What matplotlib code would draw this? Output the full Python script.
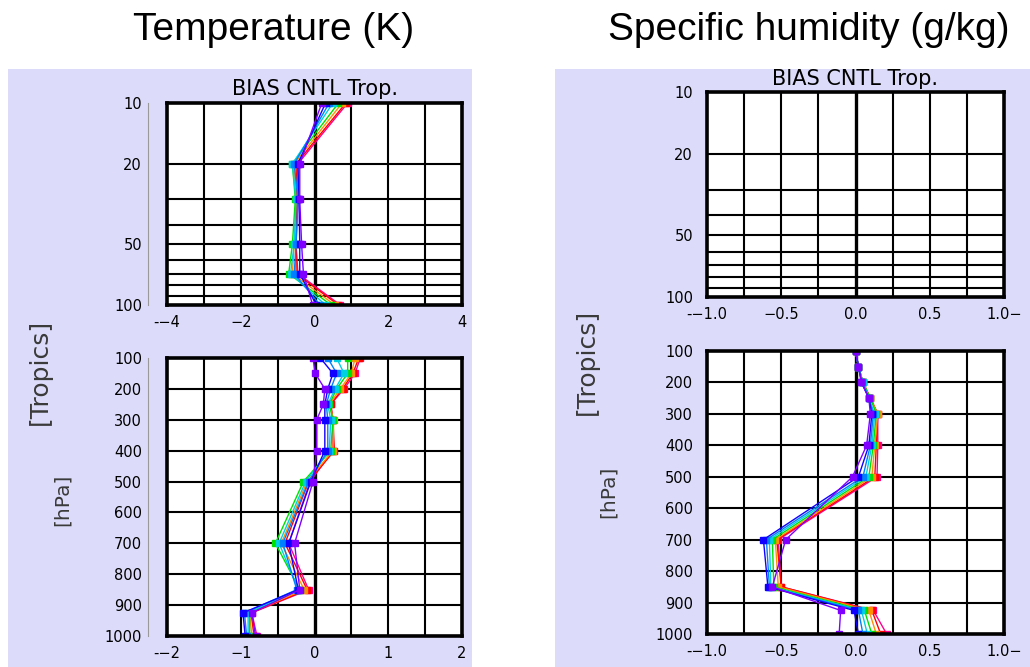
import matplotlib
matplotlib.use("Agg")
import matplotlib.pyplot as plt
from matplotlib.patches import Rectangle
from matplotlib.ticker import FixedLocator, NullFormatter

# pressure levels (hPa)
lev_upper = [10, 20, 30, 50, 70, 100]
lev_lower = [100, 150, 200, 250, 300, 400, 500, 700, 850, 925, 1000]

# one colour per experiment, purple -> magenta
colors = ['#8000ff', '#1000ff', '#0080ff', '#00d0e0', '#00e000', '#ff9000', '#ff0000', '#ff0090']

# temperature bias (K), rows = experiments, cols = lev_upper
temp_upper = [
    [0.20, -0.40, -0.40, -0.35, -0.30, -0.05],
    [0.30, -0.45, -0.42, -0.40, -0.40, 0.05],
    [0.40, -0.55, -0.45, -0.50, -0.55, 0.15],
    [0.50, -0.60, -0.50, -0.55, -0.65, 0.30],
    [0.65, -0.60, -0.52, -0.60, -0.70, 0.45],
    [0.75, -0.55, -0.50, -0.55, -0.60, 0.55],
    [0.85, -0.50, -0.48, -0.50, -0.50, 0.65],
    [0.90, -0.45, -0.45, -0.50, -0.45, 0.70],
]
# temperature bias (K), cols = lev_lower
temp_lower = [
    [-0.02, 0.01, 0.14, 0.12, 0.03, 0.03, -0.02, -0.27, -0.20, -0.85, -0.80],
    [0.08, 0.25, 0.18, 0.14, 0.14, 0.14, -0.05, -0.35, -0.22, -0.97, -0.94],
    [0.18, 0.30, 0.22, 0.16, 0.18, 0.18, -0.08, -0.43, -0.24, -0.95, -0.92],
    [0.30, 0.40, 0.28, 0.18, 0.22, 0.20, -0.12, -0.48, -0.22, -0.90, -0.90],
    [0.45, 0.45, 0.30, 0.20, 0.25, 0.22, -0.15, -0.53, -0.20, -0.88, -0.88],
    [0.55, 0.50, 0.35, 0.20, 0.26, 0.25, -0.10, -0.45, -0.14, -0.88, -0.85],
    [0.60, 0.52, 0.38, 0.22, 0.25, 0.27, -0.08, -0.40, -0.10, -0.86, -0.82],
    [0.62, 0.55, 0.40, 0.22, 0.25, 0.25, -0.06, -0.35, -0.08, -0.85, -0.78],
]
# specific humidity bias (g/kg), cols = lev_lower
q_lower = [
    [0.00, 0.02, 0.04, 0.09, 0.10, 0.075, -0.02, -0.47, -0.56, -0.10, -0.11],
    [0.00, 0.02, 0.04, 0.09, 0.11, 0.09, 0.02, -0.62, -0.59, -0.01, 0.02],
    [0.00, 0.02, 0.045, 0.09, 0.12, 0.10, 0.05, -0.60, -0.58, 0.02, 0.05],
    [0.00, 0.02, 0.05, 0.09, 0.13, 0.11, 0.07, -0.58, -0.57, 0.04, 0.08],
    [0.00, 0.02, 0.05, 0.10, 0.14, 0.12, 0.09, -0.56, -0.55, 0.06, 0.11],
    [0.00, 0.02, 0.05, 0.10, 0.15, 0.13, 0.11, -0.54, -0.52, 0.09, 0.14],
    [0.00, 0.02, 0.05, 0.10, 0.15, 0.14, 0.13, -0.53, -0.50, 0.11, 0.17],
    [0.00, 0.02, 0.05, 0.10, 0.15, 0.15, 0.145, -0.52, -0.50, 0.12, 0.21],
]

W, H = 1030, 667
LAV = '#dcdcfa'
fig = plt.figure(figsize=(W / 100, H / 100), dpi=100)
fig.patch.set_facecolor('white')

def px(x0, y0, x1, y1):
    # pixel box (top-left origin) -> figure fraction rect
    return [x0 / W, 1 - y1 / H, (x1 - x0) / W, (y1 - y0) / H]

# lavender panel backgrounds
for (x0, x1) in [(8, 472), (555, 1030)]:
    r = px(x0, 69, x1, 667)
    fig.add_artist(Rectangle((r[0], r[1]), r[2], r[3], transform=fig.transFigure,
                             facecolor=LAV, edgecolor='none', zorder=-5))

def setup(ax, xlim, xstep, xticks, xlabels, ylim, log, yticks, ygrid, gray_spine):
    ax.set_facecolor('white')
    ax.set_xlim(*xlim)
    if log:
        ax.set_yscale('log')
    ax.set_ylim(ylim[1], ylim[0])
    # grid
    x = xlim[0] + xstep
    while x < xlim[1] - 1e-9:
        ax.axvline(x, color='black', lw=1.5 if abs(x) > 1e-9 else 2.4, zorder=1)
        x += xstep
    for y in ygrid:
        ax.axhline(y, color='black', lw=1.5, zorder=1)
    ax.axvline(xlim[0], color='black', lw=2.6, zorder=3, clip_on=False)
    for s in ['top', 'right', 'bottom']:
        ax.spines[s].set_linewidth(2.6)
        ax.spines[s].set_zorder(3)
    if gray_spine:
        ax.spines['left'].set_position(('outward', 14))
        ax.spines['left'].set_color('#999999')
        ax.spines['left'].set_linewidth(0.8)
        ypad = 4
    else:
        ax.spines['left'].set_visible(False)
        ypad = 10
    ax.yaxis.set_major_locator(FixedLocator(yticks))
    ax.yaxis.set_minor_locator(FixedLocator([]))
    ax.yaxis.set_minor_formatter(NullFormatter())
    ax.set_yticklabels([str(v) for v in yticks])
    ax.set_xticks(xticks)
    ax.set_xticklabels(xlabels)
    ax.tick_params(axis='both', length=0, labelsize=10.5, labelcolor='black')
    ax.tick_params(axis='y', pad=ypad)
    ax.tick_params(axis='x', pad=7)
    for lab in ax.get_xticklabels() + ax.get_yticklabels():
        lab.set_fontfamily('DejaVu Sans')

def profiles(ax, data, levels):
    for c, row in reversed(list(zip(colors, data))):
        ax.plot(row, levels, color=c, lw=1.0, marker='s', ms=5, mec=c, zorder=2)

upper_grid = [20, 30, 40, 50, 60, 70, 80, 90]
lower_grid = [200, 300, 400, 500, 600, 700, 800, 900]
lower_ticks = [100, 200, 300, 400, 500, 600, 700, 800, 900, 1000]

# Temperature, upper
ax1 = fig.add_axes(px(167, 103, 462, 305))
setup(ax1, (-4, 4), 1, [-4, -2, 0, 2, 4], ['-\u22124', '\u22122', '0', '2', '4'],
      (10, 100), True, [10, 20, 50, 100], upper_grid, True)
profiles(ax1, temp_upper, lev_upper)
ax1.set_title('BIAS CNTL Trop.', fontsize=15, pad=6, fontfamily='DejaVu Sans')

# Temperature, lower
ax2 = fig.add_axes(px(167, 358, 462, 636))
setup(ax2, (-2, 2), 0.5, [-2, -1, 0, 1, 2], ['-\u22122', '\u22121', '0', '1', '2'],
      (100, 1000), False, lower_ticks, lower_grid, True)
profiles(ax2, temp_lower, lev_lower)

# Specific humidity, upper (no data)
ax3 = fig.add_axes(px(707, 92, 1004, 297))
setup(ax3, (-1, 1), 0.25, [-1, -0.5, 0, 0.5, 1],
      ['-\u22121.0', '\u22120.5', '0.0', '0.5', '1.0\u2212'],
      (10, 100), True, [10, 20, 50, 100], upper_grid, False)
ax3.set_title('BIAS CNTL Trop.', fontsize=15, pad=5, fontfamily='DejaVu Sans')

# Specific humidity, lower
ax4 = fig.add_axes(px(707, 351, 1004, 634))
setup(ax4, (-1, 1), 0.25, [-1, -0.5, 0, 0.5, 1],
      ['-\u22121.0', '\u22120.5', '0.0', '0.5', '1.0\u2212'],
      (100, 1000), False, lower_ticks, lower_grid, False)
profiles(ax4, q_lower, lev_lower)

# white strip above the panels (clips the right sub-title a bit)
r = px(0, 0, W, 69)
fig.add_artist(Rectangle((r[0], r[1]), r[2], r[3], transform=fig.transFigure,
                         facecolor='white', edgecolor='none', zorder=5))

# side labels
lab_col = '#3a3a3a'
fig.text(40 / W, 1 - 372 / H, '[Tropics]', rotation=90, ha='center', va='center',
         fontsize=18, color=lab_col, fontfamily='DejaVu Sans', zorder=6)
fig.text(62 / W, 1 - 500 / H, '[hPa]', rotation=90, ha='center', va='center',
         fontsize=14.5, color=lab_col, fontfamily='DejaVu Sans', zorder=6)
fig.text(587 / W, 1 - 362 / H, '[Tropics]', rotation=90, ha='center', va='center',
         fontsize=18, color=lab_col, fontfamily='DejaVu Sans', zorder=6)
fig.text(608 / W, 1 - 492 / H, '[hPa]', rotation=90, ha='center', va='center',
         fontsize=14.5, color=lab_col, fontfamily='DejaVu Sans', zorder=6)

# main titles
tfam = ['Liberation Sans', 'DejaVu Sans']
fig.text(274 / W, 1 - 40 / H, 'Temperature (K)', ha='center', va='baseline',
         fontsize=28, fontfamily=tfam, zorder=7)
fig.text(608 / W, 1 - 40 / H, 'Specific humidity (g/kg)', ha='left', va='baseline',
         fontsize=28, fontfamily=tfam, zorder=7)

fig.savefig('out.png', dpi=100)
